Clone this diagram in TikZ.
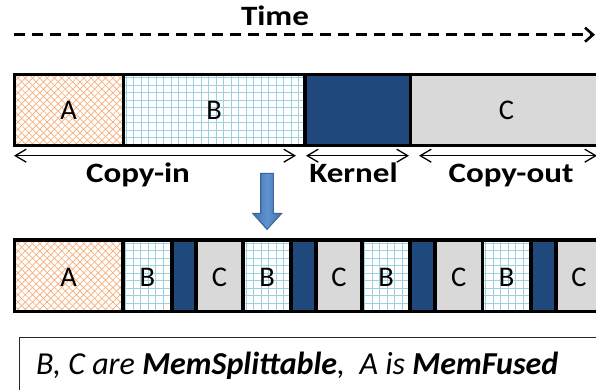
\documentclass[tikz,border=0pt]{standalone}
\usepackage{fontspec}
\setmainfont{Carlito}
\newfontfamily\widelabelfont{Carlito}[FakeStretch=1.18]
\usetikzlibrary{arrows.meta}

\definecolor{kernelblue}{HTML}{1F497D}
\definecolor{copyoutgrey}{HTML}{D9D9D9}
\definecolor{gridblue}{HTML}{9CD2E0}
\definecolor{hatchorange}{HTML}{F7AC78}
\definecolor{arrowblue}{HTML}{4F81BD}
\definecolor{arrowlight}{HTML}{5E92D2}
\definecolor{arrowedge}{HTML}{3A659C}

% diagonal orange cross-hatch clipped to a box: x1, y1, x2, y2
\newcommand\hatchA[4]{%
  \begin{scope}
    \clip (#1,#2) rectangle (#3,#4);
    \foreach \k in {-14,...,30}{
      \draw[hatchline] ({#1+\k*7.3},#2) -- ++(90,90);
      \draw[hatchline] ({#1+\k*7.3},#2) -- ++(-90,90);
    }
  \end{scope}}

% light blue square grid clipped to a box: x1, y1, x2, y2
\newcommand\gridB[4]{%
  \begin{scope}
    \clip (#1,#2) rectangle (#3,#4);
    \foreach \k in {0,...,30}{
      \draw[gridline] ({#1+3+\k*7.5},#2) -- ({#1+3+\k*7.5},#4);
    }
    \foreach \k in {0,...,10}{
      \draw[gridline] (#1,{#2+3+\k*7.5}) -- (#3,{#2+3+\k*7.5});
    }
  \end{scope}}

\begin{document}
\begin{tikzpicture}[
  x=1pt, y=-1pt,
  hatchline/.style={hatchorange, line width=0.7pt},
  gridline/.style={gridblue, line width=0.9pt},
  seglabel/.style={font=\fontsize{28.5}{30}\selectfont, anchor=base, inner sep=0pt},
  phaselabel/.style={font=\widelabelfont\bfseries\fontsize{28}{30}\selectfont, anchor=base, inner sep=0pt},
  barborder/.style={line width=3.3pt},
  splitline/.style={line width=3.9pt},
  spanarrow/.style={line width=1.3pt,
    {Straight Barb[length=11pt,width=13pt]}-{Straight Barb[length=11pt,width=13pt]}},
  timearrow/.style={line width=2.6pt, dash pattern=on 11pt off 7pt,
    -{Straight Barb[length=8pt,width=14pt]}},
]
\useasboundingbox (0,0) rectangle (596,390);
\clip (0,0) rectangle (596,390);

% ---- time axis ----
\node[phaselabel] (time) at (275,26) {Time};
\coordinate (t0) at (14,34.7);
\coordinate (t1) at (595,34.7);
\draw[timearrow] (t0) -- (t1);

% ---- unsplit schedule ----
\hatchA{14.3}{74.5}{123.3}{145.5}
\gridB{123.3}{74.5}{305}{145.5}
\fill[kernelblue] (305,74.5) rectangle (410.5,145.5);
\fill[copyoutgrey] (410.5,74.5) rectangle (602,145.5);
\draw[barborder] (14.3,74.5) rectangle (602,145.5);
\draw[barborder] (123.3,74.5) -- (123.3,145.5);
\draw[barborder] (305,74.5) -- (305,145.5);
\draw[barborder] (410.5,74.5) -- (410.5,145.5);
\node[seglabel] (uA) at (68.5,120) {A};
\node[seglabel] (uB) at (214,120) {B};
\node[seglabel] (uC) at (506.5,120) {C};

% ---- phase spans ----
\coordinate (ci0) at (14,155.7);
\coordinate (ci1) at (296,155.7);
\coordinate (k0) at (306,155.7);
\coordinate (k1) at (409,155.7);
\coordinate (co0) at (419,155.7);
\coordinate (co1) at (597,155.7);
\draw[spanarrow] (ci0) -- (ci1);
\draw[spanarrow] (k0) -- (k1);
\draw[spanarrow] (co0) -- (co1);
\node[phaselabel] (copyin) at (138,182.7) {Copy-in};
\node[phaselabel] (kernel) at (353.5,182.7) {Kernel};
\node[phaselabel] (copyout) at (511,182.7) {Copy-out};

% ---- transformation arrow ----
\draw[arrowedge, line width=1.1pt, left color=arrowblue!90!black,
      right color=arrowblue!90!black, middle color=arrowlight]
  (260.7,173.3) -- (273.3,173.3) -- (273.3,213.3) -- (281.7,213.3)
  -- (267,229.3) -- (252.7,213.3) -- (260.7,213.3) -- cycle;

% ---- split schedule ----
\def\yt{240}
\def\yb{311.5}
\hatchA{14.3}{\yt}{122.8}{\yb}
\gridB{122.8}{\yt}{172}{\yb}
\fill[kernelblue] (172,\yt) rectangle (195.7,\yb);
\fill[copyoutgrey] (195.7,\yt) rectangle (243,\yb);
\gridB{243}{\yt}{291.3}{\yb}
\fill[kernelblue] (291.3,\yt) rectangle (316,\yb);
\fill[copyoutgrey] (316,\yt) rectangle (361.7,\yb);
\gridB{361.7}{\yt}{410.3}{\yb}
\fill[kernelblue] (410.3,\yt) rectangle (434.8,\yb);
\fill[copyoutgrey] (434.8,\yt) rectangle (482.5,\yb);
\gridB{482.5}{\yt}{531}{\yb}
\fill[kernelblue] (531,\yt) rectangle (555.7,\yb);
\fill[copyoutgrey] (555.7,\yt) rectangle (602,\yb);
\draw[barborder] (14.3,\yt) rectangle (602,\yb);
\foreach \xs in {122.8,172,195.7,243,291.3,316,361.7,410.3,434.8,482.5,531,555.7}{
  \draw[splitline] (\xs,\yt) -- (\xs,\yb);
}
\node[seglabel] (sA) at (68.5,286.7) {A};
\node[seglabel] (sB1) at (147.4,286.7) {B};
\node[seglabel] (sC1) at (219.4,286.7) {C};
\node[seglabel] (sB2) at (267,286.7) {B};
\node[seglabel] (sC2) at (339,286.7) {C};
\node[seglabel] (sB3) at (386,286.7) {B};
\node[seglabel] (sC3) at (458.6,286.7) {C};
\node[seglabel] (sB4) at (506.7,286.7) {B};
\node[seglabel] (sC4) at (579,286.7) {C};

% ---- legend box ----
\draw[black!85, line width=1pt] (19.5,337.5) rectangle (640,430);
\node[anchor=base west, inner sep=0pt, font=\itshape\fontsize{32}{34}\selectfont]
  (legend) at (36,374) {B, C are \textbf{MemSplittable},\ \ A is \textbf{MemFused}};
\end{tikzpicture}
\end{document}
